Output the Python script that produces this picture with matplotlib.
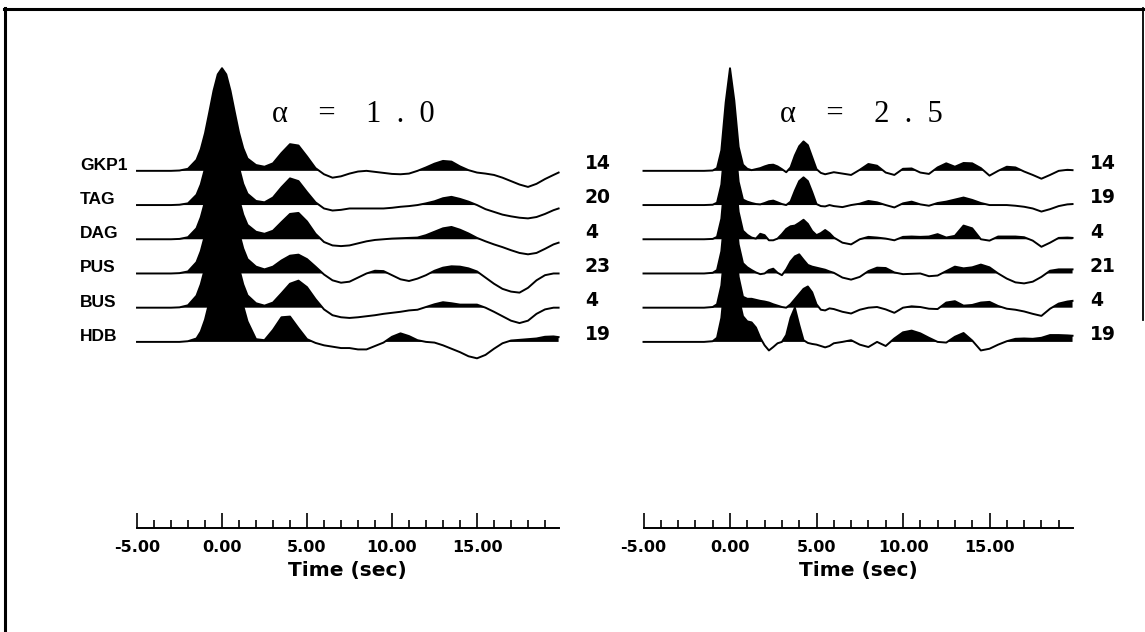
import numpy as np
import matplotlib
matplotlib.use("Agg")
import matplotlib.pyplot as plt
from matplotlib.lines import Line2D

# ── Data ──────────────────────────────────────────────────────────────────────
STATIONS = ["GKP1", "TAG", "DAG", "PUS", "BUS", "HDB"]
COUNTS_A10 = [14, 20, 4, 23, 4, 19]
COUNTS_A25 = [14, 19, 4, 21, 4, 19]
TICKS = [-5, 0, 5, 10, 15]
TICK_LABELS = ["-5.00", "0.00", "5.00", "10.00", "15.00"]

# sample times (sec) of the traces
T_A10 = np.concatenate([[-5.0, -4.0, -3.0, -2.5, -2.0],
                        np.arange(-1.5, 1.51, 0.25),
                        np.arange(2.0, 19.51, 0.5),
                        [19.8]])
T_A25 = np.concatenate([[-5.0, -4.0, -3.0, -2.0, -1.5, -1.0],
                        np.arange(-0.75, 6.01, 0.25),
                        np.arange(6.5, 19.51, 0.5),
                        [19.8]])

# alpha = 1.0 (amplitude, units of trace spacing)
A10_GKP1 = [0, 0, 0, 0.01, 0.06,
            0.32, 0.63, 1.10, 1.71, 2.34, 2.82, 3.0, 2.82, 2.34, 1.72, 1.12, 0.66, 0.36,
            0.17, 0.12, 0.22, 0.52, 0.78, 0.74, 0.42, 0.08, -0.1, -0.2,
            -0.16, -0.08, -0.02, 0.0, -0.03, -0.06, -0.09, -0.1, -0.08, 0.0,
            0.1, 0.21, 0.29, 0.27, 0.13, 0.02, -0.05, -0.08, -0.12, -0.2,
            -0.3, -0.4, -0.47, -0.38, -0.24, -0.12,
            -0.05]
A10_TAG = [0, 0, 0, 0.01, 0.05,
           0.3, 0.6, 1.07, 1.68, 2.3, 2.78, 2.97, 2.8, 2.33, 1.7, 1.1, 0.62, 0.33,
           0.12, 0.08, 0.22, 0.52, 0.78, 0.7, 0.38, 0.08, -0.1, -0.16,
           -0.14, -0.1, -0.1, -0.1, -0.1, -0.1, -0.08, -0.05, -0.03, 0.0,
           0.05, 0.11, 0.2, 0.24, 0.18, 0.1, 0.0, -0.12, -0.2, -0.28,
           -0.33, -0.37, -0.39, -0.35, -0.26, -0.15,
           -0.1]
A10_DAG = [0, 0, 0, 0.01, 0.06,
           0.32, 0.64, 1.1, 1.72, 2.34, 2.8, 2.98, 2.82, 2.36, 1.76, 1.18, 0.72, 0.42,
           0.22, 0.16, 0.25, 0.5, 0.74, 0.77, 0.52, 0.16, -0.08, -0.18,
           -0.2, -0.18, -0.12, -0.06, -0.02, 0.0, 0.02, 0.03, 0.04, 0.05,
           0.12, 0.22, 0.32, 0.36, 0.28, 0.17, 0.04, -0.06, -0.15, -0.23,
           -0.32, -0.4, -0.44, -0.4, -0.28, -0.15,
           -0.1]
A10_PUS = [0, 0, 0, 0.01, 0.06,
           0.33, 0.65, 1.12, 1.73, 2.35, 2.8, 2.97, 2.83, 2.38, 1.78, 1.2, 0.73, 0.42,
           0.2, 0.12, 0.2, 0.38, 0.52, 0.55, 0.42, 0.2, -0.03, -0.2,
           -0.27, -0.24, -0.12, 0.0, 0.08, 0.07, -0.05, -0.17, -0.22, -0.15,
           -0.05, 0.08, 0.17, 0.21, 0.2, 0.15, 0.06, -0.12, -0.3, -0.45,
           -0.53, -0.56, -0.42, -0.2, -0.05, 0.0,
           0.0]
A10_BUS = [0, 0, 0, 0.01, 0.07,
           0.35, 0.68, 1.15, 1.76, 2.37, 2.82, 2.98, 2.84, 2.38, 1.76, 1.16, 0.68, 0.36,
           0.13, 0.06, 0.15, 0.42, 0.7, 0.79, 0.6, 0.25, -0.05, -0.22,
           -0.28, -0.3, -0.28, -0.25, -0.22, -0.18, -0.15, -0.12, -0.08, -0.06,
           0.02, 0.1, 0.16, 0.13, 0.09, 0.09, 0.09, 0.0, -0.12, -0.25,
           -0.38, -0.45, -0.38, -0.18, -0.05, 0.0,
           0.0]
A10_HDB = [0, 0, 0, 0.0, 0.02,
           0.1, 0.3, 0.65, 1.15, 1.75, 2.35, 2.8, 3.0, 2.8, 2.3, 1.65, 1.05, 0.6,
           0.08, 0.05, 0.35, 0.72, 0.74, 0.4, 0.08, -0.03, -0.1, -0.14,
           -0.18, -0.18, -0.22, -0.22, -0.12, -0.02, 0.15, 0.25, 0.17, 0.05,
           0.0, -0.02, -0.1, -0.2, -0.3, -0.42, -0.48, -0.38, -0.2, -0.04,
           0.04, 0.06, 0.08, 0.1, 0.15, 0.16,
           0.14]

# alpha = 2.5
A25_GKP1 = [0, 0, 0, 0, 0, 0.01,
            0.08, 0.6, 2.0, 3.0, 2.05, 0.7, 0.18, 0.06, 0.02, 0.05, 0.08, 0.13, 0.17, 0.18,
            0.13, 0.05, -0.04, 0.1, 0.45, 0.72, 0.86, 0.75, 0.4, 0.05, -0.06, -0.1, -0.07, -0.04,
            -0.08, -0.12, 0.03, 0.2, 0.15, -0.05, -0.12, 0.06, 0.07,
            -0.05, -0.09, 0.1, 0.22, 0.12, 0.23, 0.22, 0.08, -0.14,
            0.0, 0.12, 0.1, -0.02, -0.12, -0.23, -0.12, 0.0, 0.03,
            0.02]
A25_TAG = [0, 0, 0, 0, 0, 0.01,
           0.07, 0.6, 2.0, 3.0, 2.05, 0.68, 0.16, 0.1, 0.06, 0.03, 0.02, 0.06, 0.11, 0.13,
           0.08, 0.03, 0.0, 0.1, 0.42, 0.7, 0.81, 0.7, 0.38, 0.03, -0.03, -0.04, 0.0, -0.03,
           -0.06, 0.0, 0.04, 0.12, 0.08, 0.0, -0.07, 0.05, 0.1,
           0.02, -0.02, 0.06, 0.1, 0.16, 0.22, 0.15, 0.06, 0.0,
           0.0, 0.0, -0.02, -0.05, -0.1, -0.19, -0.12, -0.03, 0.02,
           0.03]
A25_DAG = [0, 0, 0, 0, 0, 0.01,
           0.07, 0.6, 2.0, 3.0, 2.1, 0.8, 0.25, 0.13, 0.05, 0.02, 0.16, 0.12, -0.03, -0.03,
           0.02, 0.15, 0.3, 0.38, 0.4, 0.48, 0.57, 0.45, 0.24, 0.12, 0.18, 0.27, 0.18, 0.05,
           -0.1, -0.15, 0.0, 0.07, 0.05, 0.02, -0.03, 0.07, 0.08,
           0.07, 0.08, 0.15, 0.05, 0.1, 0.4, 0.32, 0.0, -0.04,
           0.08, 0.08, 0.08, 0.06, -0.04, -0.22, -0.1, 0.04, 0.05,
           0.04]
A25_PUS = [0, 0, 0, 0, 0, 0.02,
           0.1, 0.65, 2.0, 3.0, 2.15, 0.85, 0.3, 0.18, 0.1, 0.03, -0.02, 0.0, 0.1, 0.14,
           0.02, -0.05, 0.12, 0.35, 0.5, 0.56, 0.4, 0.25, 0.2, 0.17, 0.14, 0.11, 0.06, 0.02,
           -0.12, -0.18, -0.1, 0.07, 0.17, 0.16, 0.03, -0.02, -0.01,
           0.0, -0.08, -0.06, 0.07, 0.2, 0.15, 0.18, 0.26, 0.18,
           0.0, -0.15, -0.26, -0.29, -0.24, -0.1, 0.08, 0.12, 0.12,
           0.12]
A25_BUS = [0, 0, 0, 0, 0, 0.02,
           0.1, 0.65, 2.0, 3.0, 2.2, 0.9, 0.32, 0.26, 0.26, 0.23, 0.2, 0.18, 0.15, 0.1,
           0.06, 0.02, 0.0, 0.1, 0.25, 0.4, 0.55, 0.62, 0.45, 0.1, -0.06, -0.08, -0.02, -0.04,
           -0.12, -0.17, -0.06, 0.0, 0.02, -0.05, -0.15, 0.0, 0.04,
           0.02, -0.03, -0.04, 0.15, 0.19, 0.06, 0.08, 0.15, 0.17,
           0.05, -0.03, -0.06, -0.11, -0.18, -0.24, -0.03, 0.12, 0.18,
           0.2]
A25_HDB = [0, 0, 0, 0, 0, 0.02,
           0.12, 0.7, 2.0, 3.0, 2.4, 1.3, 0.75, 0.6, 0.57, 0.42, 0.12, -0.1, -0.25, -0.15,
           -0.04, 0.0, 0.2, 0.7, 1.0, 0.5, 0.05, -0.03, -0.06, -0.08, -0.12, -0.16, -0.12, -0.04,
           0.0, 0.05, -0.08, -0.15, 0.0, -0.12, 0.1, 0.28, 0.33,
           0.25, 0.12, 0.0, -0.02, 0.15, 0.26, 0.04, -0.25, -0.2,
           -0.08, 0.02, 0.09, 0.1, 0.09, 0.12, 0.2, 0.2, 0.19,
           0.18]

TRACES_A10 = [A10_GKP1, A10_TAG, A10_DAG, A10_PUS, A10_BUS, A10_HDB]
TRACES_A25 = [A25_GKP1, A25_TAG, A25_DAG, A25_PUS, A25_BUS, A25_HDB]

# ── Layout (pixels of a 1145x632 canvas) ─────────────────────────────────────
W, H = 1145, 632
AX_BOTTOM, AX_TOP = 528, 60
YLIM = (-5.44, 8.24)
XLIM = (-6, 21)
INK = "black"


def _draw_panel(ax, t, traces, counts, title, title_x, count_x, names):
    ax.set_xlim(*XLIM)
    ax.set_ylim(*YLIM)
    for side in ("left", "right", "top"):
        ax.spines[side].set_visible(False)
    ax.spines["bottom"].set_bounds(-5, 19.8)
    ax.spines["bottom"].set_linewidth(1.4)
    ax.set_yticks([])
    ax.set_xticks(TICKS)
    ax.set_xticklabels(TICK_LABELS, fontfamily="DejaVu Sans",
                       fontweight="bold", fontsize=11.5)
    ax.set_xticks(range(-5, 20), minor=True)
    ax.tick_params(axis="x", which="major", direction="in", length=11,
                   width=1.2, pad=9, colors=INK)
    ax.tick_params(axis="x", which="minor", direction="in", length=5.5,
                   width=1.2)

    n = len(traces)
    for i, amp in enumerate(traces):
        off = n - 1 - i
        amp = np.asarray(amp, dtype=float)
        ax.fill_between(t, off, off + amp, where=amp > 0, interpolate=True,
                        color=INK, lw=0, zorder=2 + i)
        ax.plot(t, off + amp, color=INK, lw=1.4, zorder=2 + i,
                solid_joinstyle="round")
        ax.text(count_x, off + 0.05, str(counts[i]), ha="left",
                va="baseline", fontfamily="DejaVu Sans", fontweight="bold",
                fontsize=13.5, color=INK, clip_on=False)
        if names is not None:
            ax.text(-8.35, off + 0.03, names[i], ha="left", va="baseline",
                    fontfamily="Liberation Sans", fontweight="bold",
                    fontsize=12.5, color=INK, clip_on=False)

    ax.text(title_x, 6.43, title, ha="left", va="baseline",
            family=["Liberation Serif", "DejaVu Serif"], fontsize=22,
            color=INK)
    ax.text(7.4, -0.09, "Time (sec)", transform=ax.get_xaxis_transform(),
            ha="center", va="center", fontfamily="DejaVu Sans",
            fontweight="bold", fontsize=14.5, color=INK)


fig = plt.figure(figsize=(W / 100, H / 100), dpi=100, facecolor="white")

ax_l = fig.add_axes([120 / W, (H - AX_BOTTOM) / H, 459 / W,
                     (AX_BOTTOM - AX_TOP) / H])
ax_r = fig.add_axes([626.2 / W, (H - AX_BOTTOM) / H, 467.1 / W,
                     (AX_BOTTOM - AX_TOP) / H])
for a in (ax_l, ax_r):
    a.patch.set_alpha(0)

_draw_panel(ax_l, T_A10, TRACES_A10, COUNTS_A10,
            "\u03b1\u2003=\u20031\u2002.\u20020", 2.95, 21.35, STATIONS)
_draw_panel(ax_r, T_A25, TRACES_A25, COUNTS_A25,
            "\u03b1\u2003=\u20032\u2002.\u20025", 2.9, 20.8, None)

# frame around the figure (open at bottom, partial on the right)
def _px(x, y):
    return x / W, 1 - y / H

for (x0, y0), (x1, y1), lw in [((4, 9), (1145, 9), 2.2),
                                ((5, 8), (5, 632), 2.2),
                                ((1143, 8), (1143, 320), 1.3)]:
    (fx0, fy0), (fx1, fy1) = _px(x0, y0), _px(x1, y1)
    fig.add_artist(Line2D([fx0, fx1], [fy0, fy1], transform=fig.transFigure,
                          color=INK, lw=lw))

fig.savefig("out.png", dpi=100, facecolor="white")
plt.close(fig)
